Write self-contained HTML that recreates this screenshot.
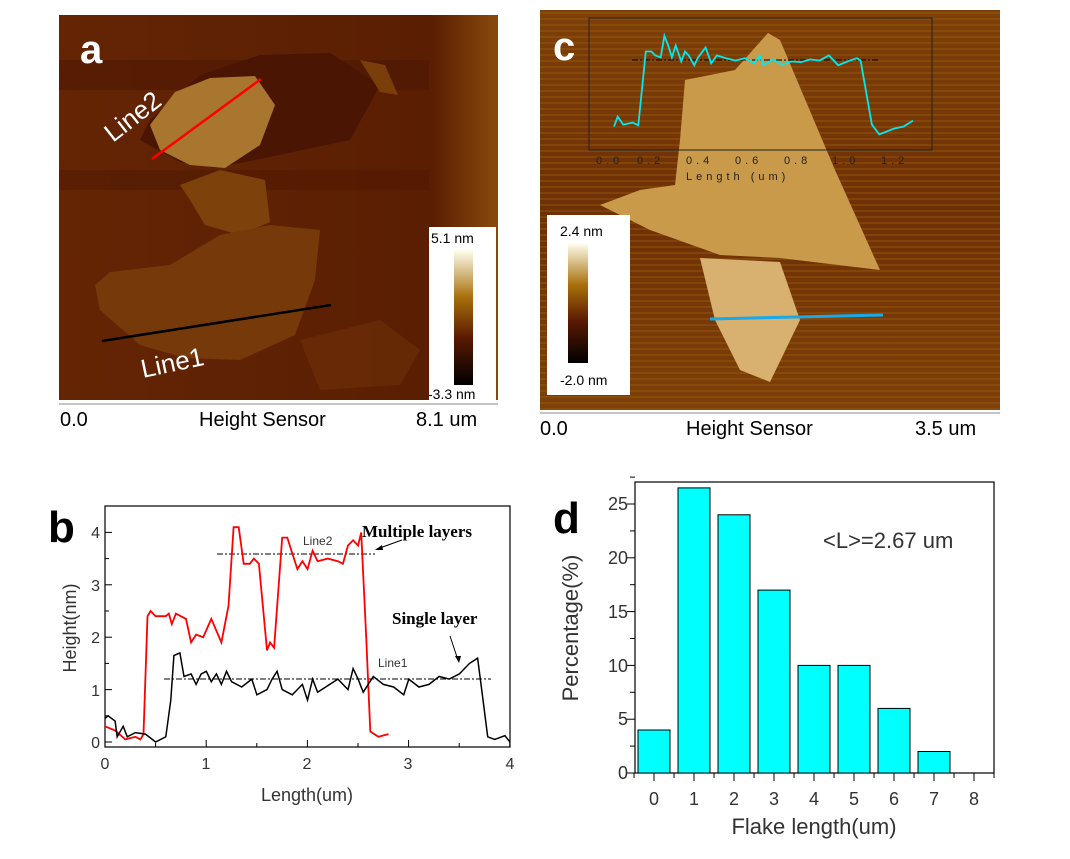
<!DOCTYPE html>
<html><head><meta charset="utf-8"><style>
body{margin:0;background:#fff;width:1070px;height:859px;overflow:hidden;font-family:"Liberation Sans",sans-serif}
svg{position:absolute;left:0;top:0}
</style></head><body>
<svg width="1070" height="859" viewBox="0 0 1070 859" xmlns="http://www.w3.org/2000/svg">
<defs>
<linearGradient id="bga" x1="0" x2="1" y1="0" y2="0"><stop offset="0" stop-color="#642504"/><stop offset="0.85" stop-color="#5a1e03"/><stop offset="1" stop-color="#8a4a0c"/></linearGradient>
<linearGradient id="cb" x1="0" x2="0" y1="0" y2="1"><stop offset="0" stop-color="#fffff0"/><stop offset="0.35" stop-color="#a8700c"/><stop offset="0.65" stop-color="#5a1a02"/><stop offset="1" stop-color="#000"/></linearGradient>
<linearGradient id="bgc" x1="0" x2="0" y1="0" y2="1"><stop offset="0" stop-color="#7e4008"/><stop offset="0.5" stop-color="#6e3005"/><stop offset="1" stop-color="#7e4008"/></linearGradient>
<pattern id="stripes" width="20" height="6" patternUnits="userSpaceOnUse"><rect width="20" height="6" fill="none"/><rect y="0" width="20" height="2" fill="#a0600f" opacity="0.35"/></pattern>
</defs>
<!-- Panel a -->
<rect x="59" y="15" width="439" height="385" fill="url(#bga)"/>
<rect x="59" y="60" width="370" height="30" fill="#4a1602" opacity="0.5"/>
<rect x="59" y="170" width="370" height="20" fill="#4a1602" opacity="0.4"/>
<polygon points="150,120 200,75 260,55 330,53 380,85 350,140 255,160 215,168 180,162 140,140" fill="#4a1603"/>
<polygon points="150,125 175,92 210,78 255,76 275,105 260,145 225,168 190,165 160,150" fill="#a8762e"/>
<polygon points="360,60 385,65 398,95 380,92" fill="#7a3e0a"/>
<polygon points="180,185 220,170 265,180 270,222 240,235 205,225 190,200" fill="#7d420c"/>
<polygon points="95,285 110,272 170,265 220,235 270,225 320,230 315,280 295,335 240,360 185,358 140,345 100,310" fill="#76390a"/>
<polygon points="300,340 380,320 420,350 400,385 320,390" fill="#6e3008" opacity="0.6"/>
<line x1="152" y1="159" x2="261" y2="79" stroke="#f00" stroke-width="2.5"/>
<line x1="102" y1="341" x2="331" y2="305" stroke="#000" stroke-width="2.5"/>
<text x="80" y="63" font-size="40" font-weight="bold" fill="#fff">a</text>
<text x="0" y="0" font-size="26" fill="#fff" transform="translate(113,143) rotate(-38)">Line2</text>
<text x="0" y="0" font-size="26" fill="#fff" transform="translate(143,378) rotate(-12)">Line1</text>
<rect x="429" y="227" width="67" height="173" fill="#fff"/>
<rect x="454" y="250" width="19" height="135" fill="url(#cb)"/>
<text x="431" y="243" font-size="14">5.1 nm</text>
<text x="428" y="399" font-size="14">-3.3 nm</text>
<line x1="59" y1="404" x2="498" y2="404" stroke="#888"/>
<text x="60" y="426" font-size="20">0.0</text>
<text x="199" y="426" font-size="20">Height Sensor</text>
<text x="416" y="426" font-size="20">8.1 um</text>
<!-- Panel c -->
<rect x="540" y="10" width="460" height="400" fill="url(#bgc)"/>
<rect x="540" y="10" width="460" height="400" fill="url(#stripes)"/>
<polygon points="685,80 735,70 768,33 780,40 835,170 880,270 780,258 720,255 650,230 600,205 640,190 675,185 680,140" fill="#c89a4a"/>
<polygon points="700,258 780,262 800,320 770,382 740,370 715,320" fill="#d8b070"/>
<rect x="589" y="18" width="343" height="132" fill="none" stroke="#222" stroke-width="1"/>
<line x1="632" y1="60" x2="880" y2="60" stroke="#000" stroke-dasharray="6,2,2,2"/>
<polyline id="cyan" fill="none" stroke="#00e8f0" stroke-width="1.8"/>
<line x1="710" y1="319" x2="883" y2="315" stroke="#19a8e8" stroke-width="3"/>
<text x="553" y="60" font-size="40" font-weight="bold" fill="#fff">c</text>
<g font-size="11" fill="#222" letter-spacing="4"><text x="596" y="164">0.0</text><text x="637" y="164">0.2</text><text x="686" y="164">0.4</text><text x="735" y="164">0.6</text><text x="784" y="164">0.8</text><text x="832" y="164">1.0</text><text x="881" y="164">1.2</text>
<text x="686" y="180">Length (um)</text></g>
<rect x="547" y="215" width="83" height="180" fill="#fff"/>
<rect x="568" y="243" width="20" height="120" fill="url(#cb)"/>
<text x="560" y="236" font-size="14">2.4 nm</text>
<text x="560" y="385" font-size="14">-2.0 nm</text>
<line x1="540" y1="413" x2="1000" y2="413" stroke="#888"/>
<text x="540" y="435" font-size="20">0.0</text>
<text x="686" y="435" font-size="20">Height Sensor</text>
<text x="915" y="435" font-size="20">3.5 um</text>
<!-- Panel b -->
<rect x="105" y="506" width="405" height="241" fill="none" stroke="#000" stroke-width="1.2"/>
<g id="bticks" stroke="#000"></g>
<g font-size="16" fill="#333" font-family="Liberation Sans,sans-serif">
<text x="100" y="748" text-anchor="end">0</text><text x="100" y="696" text-anchor="end">1</text><text x="100" y="643" text-anchor="end">2</text><text x="100" y="591" text-anchor="end">3</text><text x="100" y="538" text-anchor="end">4</text>
<text x="105" y="769" text-anchor="middle">0</text><text x="206" y="769" text-anchor="middle">1</text><text x="307" y="769" text-anchor="middle">2</text><text x="408" y="769" text-anchor="middle">3</text><text x="510" y="769" text-anchor="middle">4</text>
<text x="307" y="801" text-anchor="middle" font-size="18">Length(um)</text>
<text transform="translate(76,628) rotate(-90)" text-anchor="middle" font-size="18">Height(nm)</text>
</g>
<text x="48" y="542" font-size="44" font-weight="bold">b</text>
<line x1="217" y1="554" x2="375" y2="554" stroke="#000" stroke-dasharray="6,2,2,2"/>
<line x1="164" y1="679" x2="491" y2="679" stroke="#000" stroke-dasharray="6,2,2,2"/>
<polyline id="red" fill="none" stroke="#f00" stroke-width="1.8"/>
<polyline id="blk" fill="none" stroke="#000" stroke-width="1.5"/>
<text x="303" y="545" font-size="12" fill="#333">Line2</text>
<text x="378" y="667" font-size="12" fill="#333">Line1</text>
<text x="362" y="537" font-size="17" font-weight="bold" font-family="Liberation Serif,serif">Multiple layers</text>
<text x="392" y="624" font-size="17" font-weight="bold" font-family="Liberation Serif,serif">Single layer</text>
<line x1="402" y1="540" x2="377" y2="549" stroke="#000"/><polygon points="375,550 382,545 383,550" fill="#000"/>
<line x1="450" y1="636" x2="458" y2="660" stroke="#000"/><polygon points="459,663 455,656 461,656" fill="#000"/>
<!-- Panel d -->
<rect x="635" y="482" width="359" height="291" fill="none" stroke="#000" stroke-width="1.2"/>
<g id="dbars" fill="#00ffff" stroke="#000" stroke-width="1"></g>
<g id="dticks" stroke="#000"></g>
<g font-size="18" fill="#333">
<text x="628" y="779" text-anchor="end">0</text><text x="628" y="725" text-anchor="end">5</text><text x="628" y="672" text-anchor="end">10</text><text x="628" y="618" text-anchor="end">15</text><text x="628" y="564" text-anchor="end">20</text><text x="628" y="510" text-anchor="end">25</text>
<text x="654" y="805" text-anchor="middle">0</text><text x="694" y="805" text-anchor="middle">1</text><text x="734" y="805" text-anchor="middle">2</text><text x="774" y="805" text-anchor="middle">3</text><text x="814" y="805" text-anchor="middle">4</text><text x="854" y="805" text-anchor="middle">5</text><text x="894" y="805" text-anchor="middle">6</text><text x="934" y="805" text-anchor="middle">7</text><text x="974" y="805" text-anchor="middle">8</text>
<text x="814" y="834" text-anchor="middle" font-size="22">Flake length(um)</text>
<text transform="translate(578,628) rotate(-90)" text-anchor="middle" font-size="22">Percentage(%)</text>
<text x="823" y="548" font-size="22">&lt;L&gt;=2.67 um</text>
</g>
<text x="553" y="533" font-size="44" font-weight="bold">d</text>
</svg>
<script>
function pl(id,pts,fx,fy){document.getElementById(id).setAttribute('points',pts.map(p=>fx(p[0]).toFixed(1)+','+fy(p[1]).toFixed(1)).join(' '));}
var bx=x=>105+x*101.25, by=y=>742-y*52.4;
pl('red',[[0,0.3],[0.1,0.22],[0.2,0.05],[0.3,0.1],[0.35,0.05],[0.38,0.15],[0.42,2.4],[0.45,2.5],[0.5,2.4],[0.6,2.4],[0.63,2.45],[0.66,2.25],[0.7,2.45],[0.8,2.35],[0.85,1.9],[0.9,2.05],[0.97,2.0],[1.05,2.35],[1.15,1.9],[1.22,2.6],[1.27,4.1],[1.32,4.1],[1.37,3.4],[1.43,3.4],[1.47,3.5],[1.52,3.4],[1.6,1.75],[1.63,1.9],[1.67,1.8],[1.75,3.9],[1.8,3.9],[1.85,3.6],[1.9,3.3],[1.95,3.45],[2.0,3.3],[2.05,3.65],[2.1,3.45],[2.2,3.5],[2.3,3.45],[2.35,3.4],[2.4,3.75],[2.45,3.85],[2.5,3.75],[2.53,4.0],[2.58,2.0],[2.62,0.2],[2.7,0.1],[2.8,0.15]],bx,by);
pl('blk',[[0,0.45],[0.03,0.5],[0.1,0.4],[0.12,0.1],[0.18,0.3],[0.22,0.1],[0.3,0.18],[0.4,0.15],[0.5,0.0],[0.6,0.1],[0.65,0.8],[0.68,1.65],[0.74,1.7],[0.78,1.25],[0.85,1.3],[0.9,1.1],[0.95,1.3],[1.0,1.35],[1.05,1.15],[1.1,1.3],[1.15,1.1],[1.2,1.35],[1.25,1.15],[1.35,1.05],[1.45,1.2],[1.5,0.9],[1.6,1.0],[1.65,1.2],[1.7,1.35],[1.75,1.0],[1.85,0.9],[1.95,1.1],[2.0,0.8],[2.05,1.2],[2.1,0.95],[2.3,1.2],[2.4,1.0],[2.45,1.4],[2.5,1.2],[2.55,0.95],[2.65,1.25],[2.75,1.1],[2.85,1.05],[2.95,0.9],[3.0,1.2],[3.1,1.05],[3.2,1.1],[3.3,1.25],[3.4,1.2],[3.5,1.3],[3.6,1.5],[3.68,1.6],[3.72,1.0],[3.78,0.1],[3.85,0.05],[3.95,0.12],[4.0,0.0]],bx,by);
var cx=x=>614+x*252.5, cy=y=>89-y*39.5;
pl('cyan',[[0,-0.95],[0.02,-0.7],[0.05,-0.9],[0.1,-0.85],[0.13,-0.92],[0.17,0.95],[0.2,0.95],[0.22,0.85],[0.25,0.8],[0.27,1.35],[0.29,1.1],[0.31,0.8],[0.33,1.1],[0.36,0.7],[0.38,0.95],[0.4,0.85],[0.43,0.6],[0.45,0.8],[0.49,1.05],[0.52,0.65],[0.55,0.85],[0.6,0.78],[0.65,0.72],[0.7,0.78],[0.75,0.65],[0.78,0.85],[0.8,0.6],[0.85,0.75],[0.9,0.62],[0.95,0.7],[1.0,0.68],[1.05,0.75],[1.1,0.72],[1.15,0.85],[1.2,0.6],[1.25,0.7],[1.3,0.78],[1.32,0.72],[1.38,-0.9],[1.42,-1.15],[1.5,-1.0],[1.55,-0.95],[1.6,-0.8]].map(p=>[p[0]*0.74,p[1]]),cx,cy);
var s='';for(var i=0;i<=8;i++){var x=105+i*50.6;s+='<line x1="'+x+'" y1="747" x2="'+x+'" y2="'+(i%2?743:740)+'"/>';}
for(var j=0;j<=8;j++){var y=742-j*26.2;s+='<line x1="105" y1="'+y+'" x2="'+(j%2?109:112)+'" y2="'+y+'"/>';}
document.getElementById('bticks').innerHTML=s;
var v=[4,26.5,24,17,10,10,6,2,0],b='';
v.forEach((h,i)=>{if(h>0){var y=773-h*10.76;b+='<rect x="'+(638+i*40)+'" y="'+y.toFixed(1)+'" width="32" height="'+(h*10.76).toFixed(1)+'"/>';}});
document.getElementById('dbars').innerHTML=b;
var t='';for(var k=0;k<=9;k++){var x=634+k*40;t+='<line x1="'+x+'" y1="773" x2="'+x+'" y2="778"/>';if(k<9)t+='<line x1="'+(x+20)+'" y1="773" x2="'+(x+20)+'" y2="781"/>';}
for(var m=0;m<=11;m++){var y=773-m*2.5*10.76;t+='<line x1="635" y1="'+y+'" x2="'+(m%2?630:627)+'" y2="'+y+'"/>';}
document.getElementById('dticks').innerHTML=t;
</script>
</body></html>
